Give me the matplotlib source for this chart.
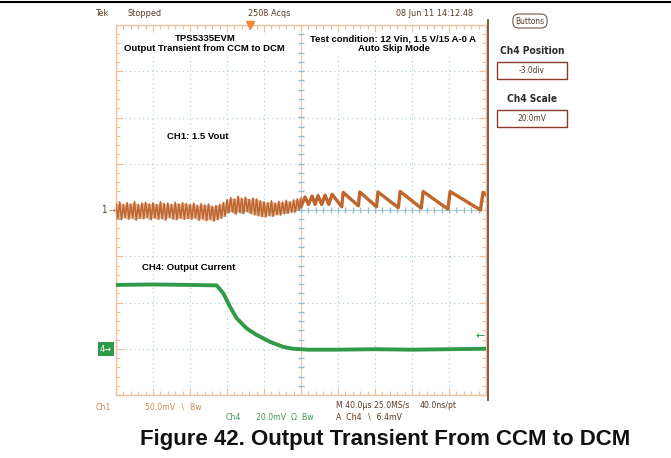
#!/usr/bin/env python3
# Scope capture: output transient from CCM to DCM (TPS5335EVM)
# Produces: out.png

import numpy as np
import matplotlib
matplotlib.use("Agg")
import matplotlib.pyplot as plt
from matplotlib.lines import Line2D
from matplotlib import font_manager

# ───────────────────────────────────────────────────────────────
#  Data (screen divisions: x = 0..10 div, y = -4..4 div)
# ───────────────────────────────────────────────────────────────

# CH1 (Vout, AC) - CCM ripple band, sampled every 0.1 div
ch1_ccm_t = [round(0.1 * i, 2) for i in range(51)]
ch1_ccm_hi = [0.14, 0.17, 0.12, 0.16, 0.13, 0.18, 0.12, 0.15, 0.17, 0.13,
              0.16, 0.12, 0.18, 0.14, 0.15, 0.12, 0.17, 0.13, 0.16, 0.14,
              0.12, 0.15, 0.10, 0.14, 0.11, 0.13, 0.08, 0.10, 0.12, 0.16,
              0.22, 0.27, 0.24, 0.30, 0.25, 0.28, 0.23, 0.26, 0.24, 0.20,
              0.18, 0.16, 0.20, 0.15, 0.19, 0.17, 0.21, 0.18, 0.22, 0.24,
              0.26]
ch1_ccm_lo = [-0.18, -0.21, -0.16, -0.20, -0.17, -0.22, -0.18, -0.19, -0.16, -0.21,
              -0.17, -0.20, -0.18, -0.22, -0.16, -0.19, -0.21, -0.17, -0.20, -0.18,
              -0.20, -0.17, -0.22, -0.19, -0.23, -0.20, -0.24, -0.21, -0.18, -0.14,
              -0.06, -0.04, -0.09, -0.05, -0.08, -0.03, -0.07, -0.10, -0.12, -0.14,
              -0.15, -0.12, -0.14, -0.10, -0.11, -0.08, -0.07, -0.05, -0.04, 0.00,
              0.05]

# CH1 - DCM (auto skip) sawtooth: trough / peak pairs
ch1_dcm_t = [5.00, 5.11, 5.20, 5.30, 5.38, 5.46, 5.56, 5.65, 5.75, 5.84,
             6.10, 6.14, 6.55, 6.59, 7.04, 7.08, 7.63, 7.68, 8.25, 8.30,
             8.97, 9.03, 9.85, 9.92, 10.0]
ch1_dcm_v = [0.08, 0.28, 0.12, 0.30, 0.12, 0.31, 0.12, 0.32, 0.12, 0.34,
             0.07, 0.38, 0.09, 0.39, 0.07, 0.39, 0.05, 0.40, 0.04, 0.40,
             0.02, 0.40, 0.00, 0.38, 0.33]

# CH4 (output current) 15 A -> 0 A
ch4_t = [0.0, 1.0, 2.0, 2.72, 2.90, 3.08, 3.26, 3.53, 3.80, 4.16, 4.52, 4.79,
         5.2, 6.0, 7.0, 8.0, 9.0, 10.0]
ch4_v = [-1.62, -1.61, -1.62, -1.63, -1.80, -2.09, -2.34, -2.56, -2.70, -2.85,
         -2.96, -3.00, -3.02, -3.02, -3.01, -3.02, -3.01, -3.00]

# ───────────────────────────────────────────────────────────────
#  Fonts: pick a narrow face for the scope readouts if one exists
# ───────────────────────────────────────────────────────────────

fonts = font_manager.fontManager.ttflist
names = {f.name for f in fonts}
SCOPE_KW = dict(family=["Liberation Sans", "DejaVu Sans"])
sc = 0.84
if "Liberation Sans Narrow" in names:
    SCOPE_KW = dict(family=["Liberation Sans Narrow", "DejaVu Sans"])
    sc = 1.0
elif any(f.name == "DejaVu Sans" and f.stretch == "condensed" for f in fonts):
    SCOPE_KW = dict(family=["DejaVu Sans"], fontstretch="condensed")
    sc = 0.86

BOLD = ["Liberation Sans", "DejaVu Sans"]
C1 = "#c0652c"
C4 = "#2f9a48"
EDGE = "#ecc09c"
GRID = "#a9cad4"
DARK = "#5b3b24"

W, H = 671, 458
fig = plt.figure(figsize=(W / 100, H / 100), dpi=100)
fig.patch.set_facecolor("white")


def px(x, y):
    return x / W, 1 - y / H


x0, x1, y0, y1 = 116, 486, 25, 395
ax = fig.add_axes([x0 / W, 1 - y1 / H, (x1 - x0) / W, (y1 - y0) / H])
ax.set_xlim(0, 10)
ax.set_ylim(-4, 4)
for s in ax.spines.values():
    s.set_color(EDGE)
    s.set_linewidth(1.0)
ax.set_xticks(range(11))
ax.set_yticks(range(-4, 5))
ax.set_xticks(np.arange(0, 10.01, 0.2), minor=True)
ax.set_yticks(np.arange(-4, 4.01, 0.2), minor=True)
ax.tick_params(which="both", direction="in", top=True, right=True,
               labelbottom=False, labelleft=False, color=EDGE, width=0.8)
ax.tick_params(which="major", length=5)
ax.tick_params(which="minor", length=3)

# dotted graticule
for gx in range(1, 10):
    if gx != 5:
        ax.axvline(gx, color=GRID, lw=0.8, ls=(0, (1, 3)), zorder=1)
for gy in range(-3, 4):
    if gy != 0:
        ax.axhline(gy, color=GRID, lw=0.8, ls=(0, (1, 3)), zorder=1)

# centre axes with tick marks
ax.axvline(5, color=EDGE, lw=0.7, zorder=1)
ax.axhline(0, color=GRID, lw=0.7, zorder=1)
cx = np.arange(0, 10.01, 0.2)
cy = np.arange(-4, 4.01, 0.2)
ax.plot(cx, np.zeros_like(cx), ls="none", marker="|", ms=4, color="#8fc0c8", zorder=1)
ax.plot(np.full_like(cy, 5.0), cy, ls="none", marker="_", ms=4, color="#8fc0c8", zorder=1)

# traces
ax.fill_between(ch1_ccm_t, ch1_ccm_lo, ch1_ccm_hi, color=C1, alpha=0.45, lw=0, zorder=3)
zz_t, zz_v = [], []
for t, hi, lo in zip(ch1_ccm_t, ch1_ccm_hi, ch1_ccm_lo):
    zz_t += [t, t + 0.05]
    zz_v += [hi, lo]
ax.plot(zz_t[:-1], zz_v[:-1], color=C1, lw=1.1, zorder=4)
ax.plot(ch1_dcm_t, ch1_dcm_v, color=C1, lw=2.4, zorder=4)
ax.plot(ch4_t, ch4_v, color=C4, lw=2.8, zorder=4)

# annotations on screen
ann = dict(fontsize=6.8, fontweight="bold", family=BOLD, ha="center", va="center", zorder=6,
           bbox=dict(facecolor="white", edgecolor="none", pad=1.0))
ax.text(2.4, 3.6, "TPS5335EVM\nOutput Transient from CCM to DCM", linespacing=1.1, **ann)
ax.text(7.5, 3.6, "Test condition: 12 Vin, 1.5 V/15 A-0 A\nAuto Skip Mode", linespacing=1.1, **ann)
ax.text(2.2, 1.6, "CH1: 1.5 Vout", **ann)
ann["ha"] = "left"
ax.text(0.7, -1.25, "CH4: Output Current", **ann)

# trigger markers
ax.plot([3.62], [4.0], marker="v", ms=6, color="#f08a3a", clip_on=False, zorder=7)
ax.text(9.98, -2.72, "\u2190", color=C4, fontsize=8, ha="right", va="center", zorder=7)

# channel ground markers
fig.text(*px(104, 210), "1", color=DARK, fontsize=7, ha="center", va="center", **SCOPE_KW)
fig.text(*px(112, 210), "\u2192", color=C1, fontsize=6, ha="center", va="center")
fig.text(*px(106, 349), "4\u2192", color="white", fontsize=6.5, ha="center",
         va="center", bbox=dict(facecolor=C4, edgecolor="none", pad=1.5), **SCOPE_KW)

# right border of the scope screen
fig.add_artist(Line2D([488 / W, 488 / W], [1 - 400 / H, 1 - 20 / H], color="#8a5a40", lw=1.4))
# top rule of the page
fig.add_artist(Line2D([0, 1], [1 - 2 / H, 1 - 2 / H], color="black", lw=1.5))

# header line
top = dict(fontsize=7.5 * sc, color=DARK, va="center", **SCOPE_KW)
fig.text(*px(96, 13), "Tek", **top)
fig.text(*px(128, 13), "Stopped", **top)
fig.text(*px(248, 13), "2508 Acqs", **top)
fig.text(*px(396, 13), "08 Jun 11 14:12:48", **top)

# bottom readout
bot = dict(fontsize=7.2 * sc, va="center", **SCOPE_KW)
fig.text(*px(96, 407), "Ch1", color="#c98a4c", **bot)
fig.text(*px(145, 407), "50.0mV  \u2216  Bw", color="#c98a4c", **bot)
fig.text(*px(226, 417), "Ch4", color="#3a9a55", **bot)
fig.text(*px(256, 417), "20.0mV  \u03a9  Bw", color="#3a9a55", **bot)
fig.text(*px(336, 406), "M 40.0\u00b5s 25.0MS/s", color=DARK, **bot)
fig.text(*px(420, 406), "40.0ns/pt", color=DARK, **bot)
fig.text(*px(336, 417), "A  Ch4  \u2216  6.4mV", color=DARK, **bot)

# side panel
fig.text(*px(530, 21), "Buttons", fontsize=7 * sc, color=DARK, ha="center", va="center",
         bbox=dict(boxstyle="round,pad=0.3,rounding_size=0.7", facecolor="white",
                   edgecolor="#6a5a50", lw=0.8), **SCOPE_KW)
side = dict(fontsize=8.5 * sc, fontweight="bold", color="#2a2a2a", ha="center", va="center",
            **SCOPE_KW)
fig.text(*px(532, 51), "Ch4 Position", **side)
fig.text(*px(532, 99), "Ch4 Scale", **side)
for yb, label in [(62, "-3.0div"), (110, "20.0mV")]:
    fig.add_artist(plt.Rectangle(px(497, yb + 17), 70 / W, 17 / H, transform=fig.transFigure,
                                 facecolor="white", edgecolor="#8b3a2a", lw=1.0))
    fig.text(*px(532, yb + 8.5), label, fontsize=7 * sc, color=DARK, ha="center", va="center",
             **SCOPE_KW)

# caption
fig.text(*px(385, 440), "Figure 42. Output Transient From CCM to DCM", fontsize=16,
         fontweight="bold", family=BOLD, ha="center", va="center", color="#111111")

fig.savefig("out.png", dpi=100)
